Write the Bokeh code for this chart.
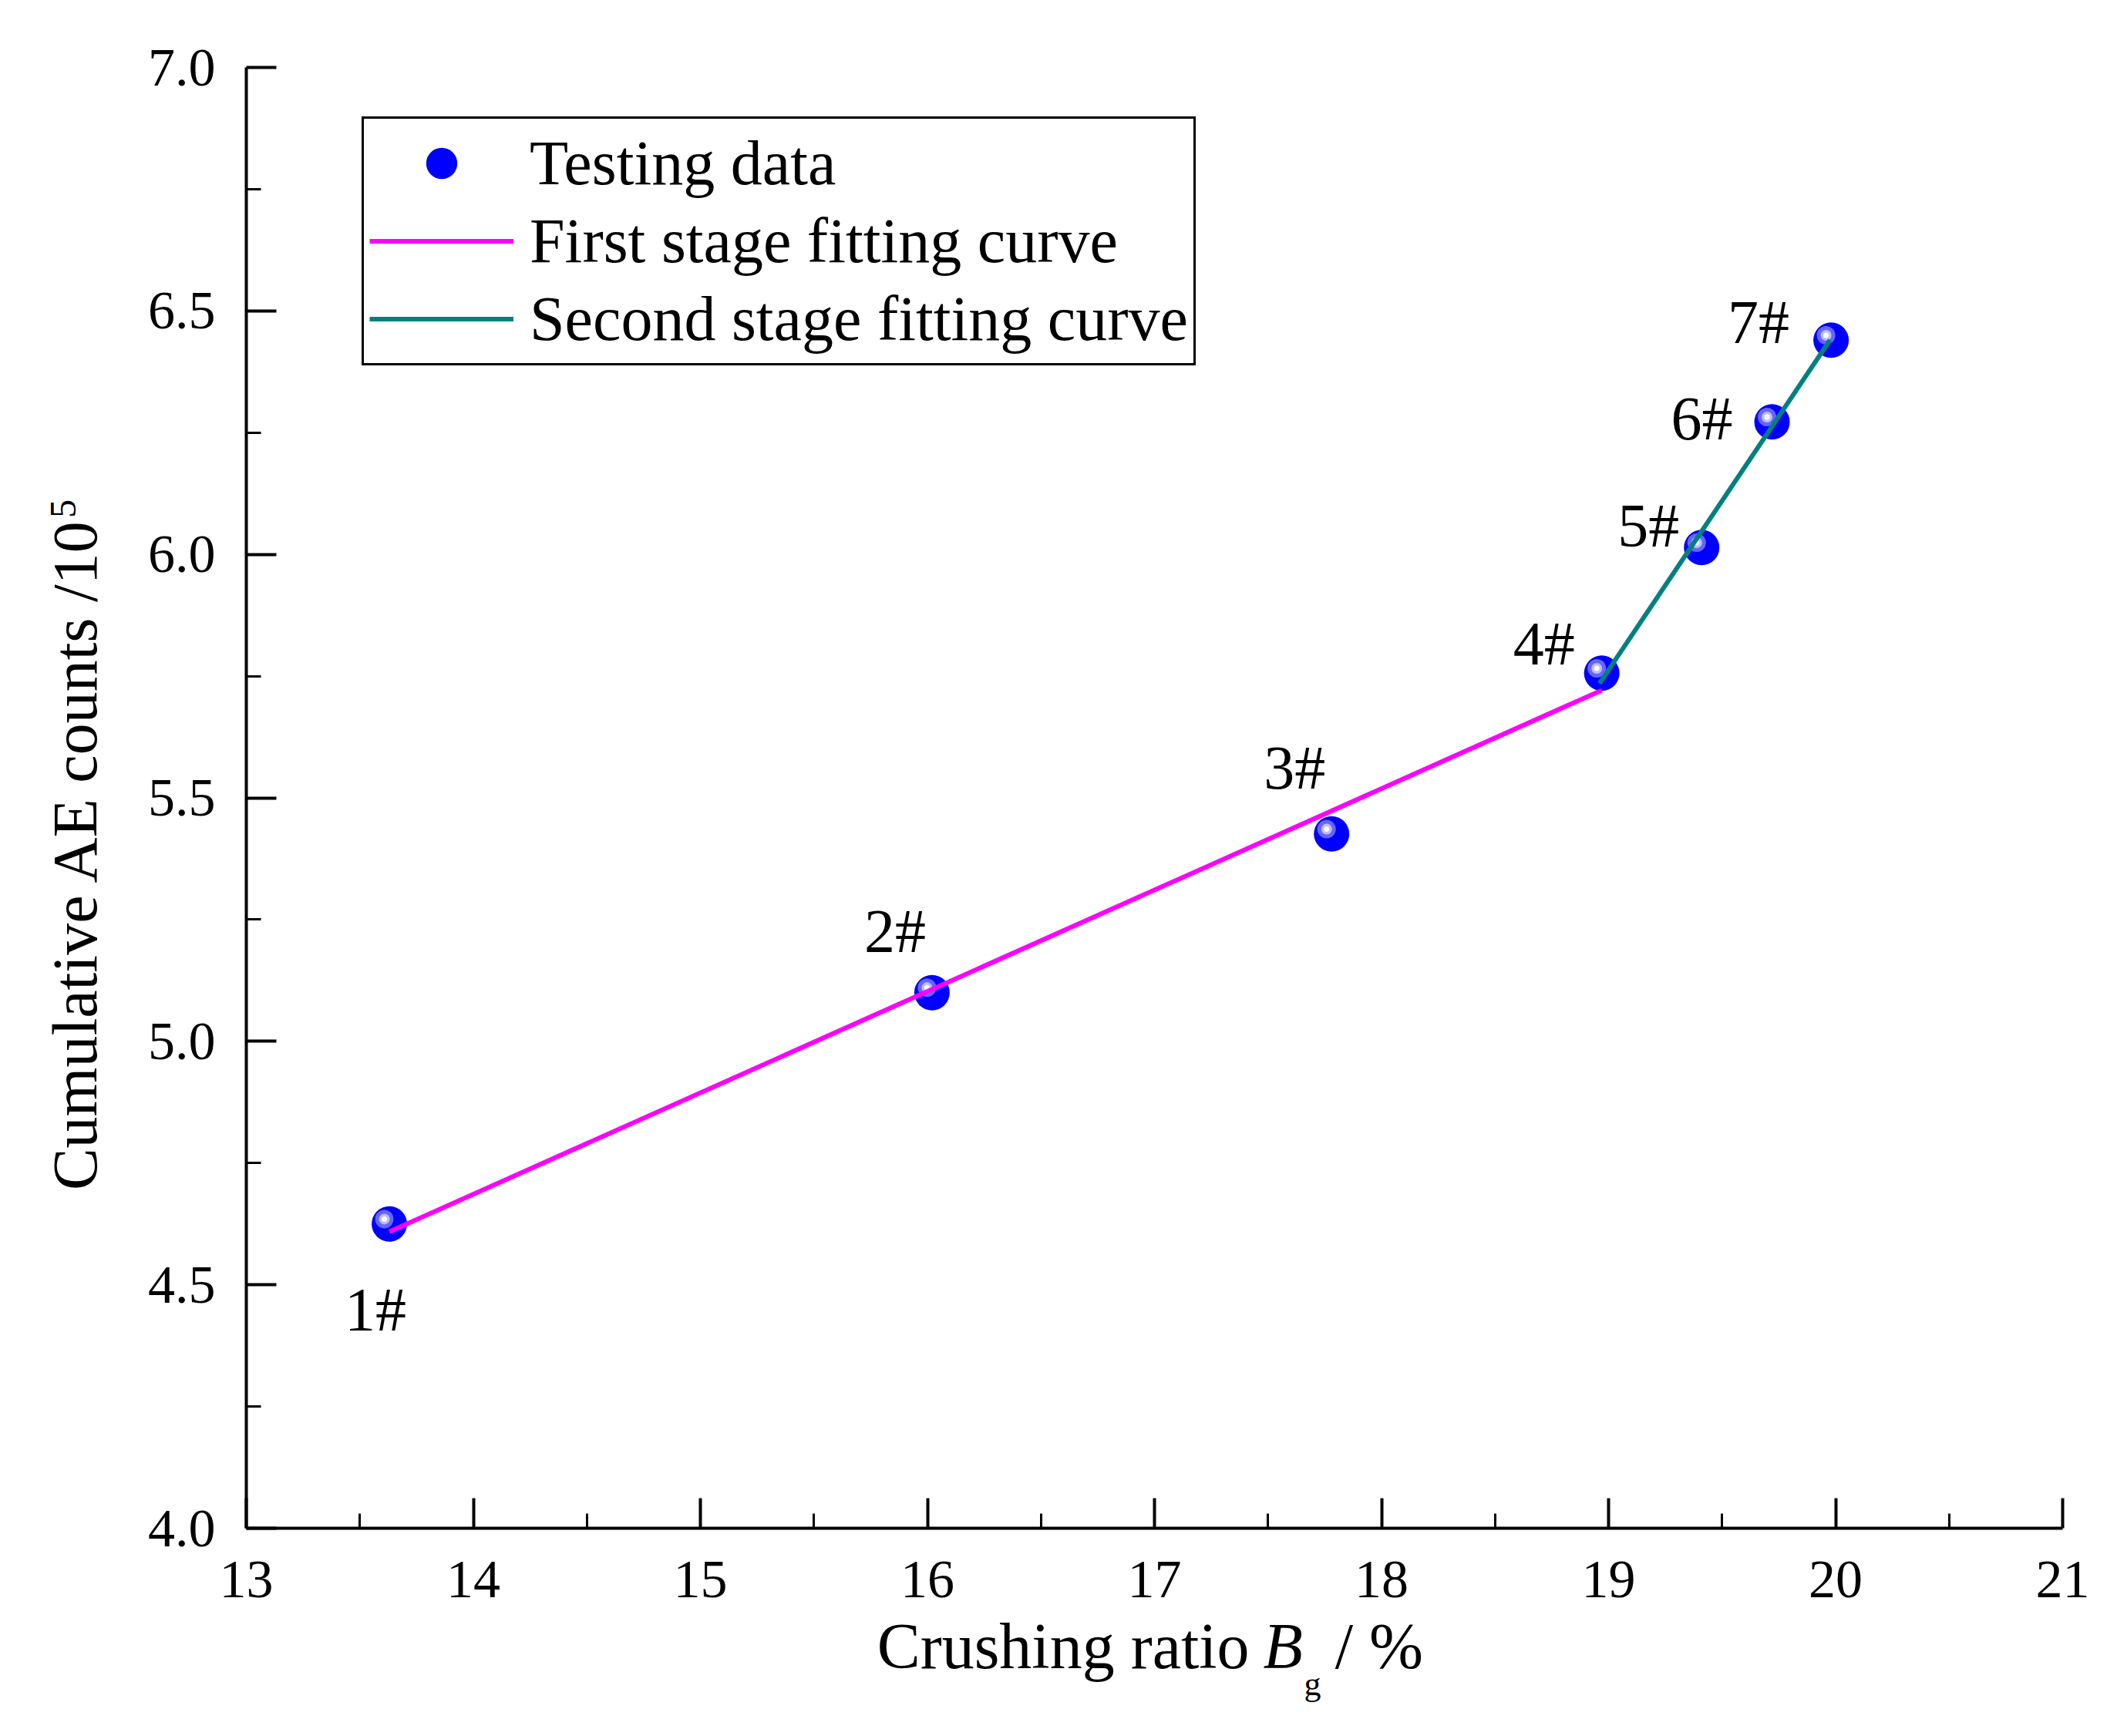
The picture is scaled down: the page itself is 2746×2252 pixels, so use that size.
from bokeh.plotting import figure
from bokeh.models import (ColumnDataSource, FixedTicker, Legend, LegendItem, Label,
                          Range1d, PrintfTickFormatter, LinearAxis)
from bokeh.transform import dodge
from bokeh.core.properties import value
from bokeh.embed import file_html
from bokeh.resources import INLINE

# ---------------- data ----------------
crushing_ratio = [13.63, 16.02, 17.78, 18.97, 19.41, 19.72, 19.98]
ae_counts = [4.625, 5.100, 5.426, 5.756, 6.014, 6.272, 6.440]
sample_labels = ["1#", "2#", "3#", "4#", "5#", "6#", "7#"]

fit1_x = [13.63, 18.97]
fit1_y = [4.609, 5.721]
fit2_x = [18.96, 19.975]
fit2_y = [5.735, 6.440]

x_ticks = [13, 14, 15, 16, 17, 18, 19, 20, 21]
x_minor = [13.5, 14.5, 15.5, 16.5, 17.5, 18.5, 19.5, 20.5]
y_ticks = [4.0, 4.5, 5.0, 5.5, 6.0, 6.5, 7.0]
y_minor = [4.25, 4.75, 5.25, 5.75, 6.25, 6.75]

x_title = "Crushing ratio"
y_title = "Cumulative AE counts /10"

# label offsets (screen px) for the sample tags
label_dx = [-18, -48, -48, -75, -69, -91, -94]
label_dy = [111, -80, -86, -38, -28, -4, -23]

FONT = "Liberation Serif"
W, H = 2730, 2236
# pixel placement of the axes box on the canvas
X0PX, X1PX, YTOPPX, YBOTPX = 319, 2675, 87, 1982
xs = (X1PX - X0PX) / (x_ticks[-1] - x_ticks[0])
ys = (YBOTPX - YTOPPX) / (y_ticks[-1] - y_ticks[0])
x_range = Range1d(x_ticks[0] - X0PX / xs, x_ticks[-1] + (W - X1PX) / xs)
y_range = Range1d(y_ticks[0] - (H - YBOTPX) / ys, y_ticks[-1] + YTOPPX / ys)

src = ColumnDataSource(dict(x=crushing_ratio, y=ae_counts, t=sample_labels,
                            dx=label_dx, dy=label_dy))

p = figure(width=W, height=H, x_range=x_range, y_range=y_range,
           x_axis_type=None, y_axis_type=None,
           output_backend="svg", toolbar_location=None,
           min_border=0)
p.outline_line_color = None
p.background_fill_color = "white"
p.border_fill_color = "white"
p.xgrid.visible = False
p.ygrid.visible = False

xaxis = LinearAxis(fixed_location=y_ticks[0], bounds=(x_ticks[0], x_ticks[-1]),
                   ticker=FixedTicker(ticks=x_ticks, minor_ticks=x_minor),
                   formatter=PrintfTickFormatter(format="%d"))
yaxis = LinearAxis(fixed_location=x_ticks[0], bounds=(y_ticks[0], y_ticks[-1]),
                   ticker=FixedTicker(ticks=y_ticks, minor_ticks=y_minor),
                   formatter=PrintfTickFormatter(format="%.1f"))
for ax in (xaxis, yaxis):
    ax.axis_line_width = 4
    ax.axis_line_color = "black"
    ax.major_tick_in = 39
    ax.major_tick_out = 0
    ax.minor_tick_in = 19
    ax.minor_tick_out = 0
    ax.major_tick_line_width = 4
    ax.minor_tick_line_width = 3
    ax.major_label_text_font = FONT
    ax.major_label_text_font_size = "70px"
    ax.major_label_text_color = "black"
xaxis.major_label_standoff = 43
yaxis.major_label_standoff = 40
p.add_layout(xaxis, "below")
p.add_layout(yaxis, "left")

# points (sphere look)
r_base = p.scatter("x", "y", source=src, size=46, fill_color="#0000FF", line_color=None)
p.scatter(dodge("x", -0.022), dodge("y", 0.010), source=src, size=24,
          fill_color="#7F7FFF", fill_alpha=0.8, line_color=None)
p.scatter(dodge("x", -0.022), dodge("y", 0.010), source=src, size=14,
          fill_color="#C8C8FF", fill_alpha=0.9, line_color=None)
p.scatter(dodge("x", -0.022), dodge("y", 0.010), source=src, size=7,
          fill_color="white", line_color=None)

# fitting lines on top
r_fit1 = p.line(fit1_x, fit1_y, line_color="#FF00FF", line_width=6)
r_fit2 = p.line(fit2_x, fit2_y, line_color="#008080", line_width=6)

# sample tags
p.text("x", "y", text="t", source=src, x_offset="dx", y_offset="dy",
       text_font=value(FONT), text_font_size="80px", text_align="center",
       text_baseline="middle", text_color="black")

legend = Legend(items=[
    LegendItem(label="Testing data", renderers=[r_base]),
    LegendItem(label="First stage fitting curve", renderers=[r_fit1]),
    LegendItem(label="Second stage fitting curve", renderers=[r_fit2]),
], location=(469, H - 474))
legend.label_text_font = FONT
legend.label_text_font_size = "82px"
legend.label_text_color = "black"
legend.glyph_width = 187
legend.glyph_height = 101
legend.label_height = 101
legend.label_standoff = 21
legend.padding = 7
legend.spacing = 0
legend.margin = 0
legend.border_line_color = "black"
legend.border_line_alpha = 1.0
legend.border_line_width = 3
legend.background_fill_color = "white"
legend.background_fill_alpha = 1.0
p.add_layout(legend)

# x-axis title: Crushing ratio B_g / %
p.add_layout(Label(x=17.418, y=3.758, text=x_title, text_align="right",
                   text_baseline="alphabetic", text_font=FONT, text_font_size="84px",
                   text_color="black"))
p.add_layout(Label(x=17.479, y=3.758, text="B", text_align="left", text_font_style="italic",
                   text_baseline="alphabetic", text_font=FONT, text_font_size="84px",
                   text_color="black"))
p.add_layout(Label(x=17.659, y=3.680, text="g", text_align="left",
                   text_baseline="alphabetic", text_font=FONT, text_font_size="44px",
                   text_color="black"))
p.add_layout(Label(x=17.795, y=3.758, text="/ %", text_align="left",
                   text_baseline="alphabetic", text_font=FONT, text_font_size="84px",
                   text_color="black"))

# y-axis title: Cumulative AE counts /10^5
p.add_layout(Label(x=12.245, y=6.075, text=y_title, angle=1.5707963,
                   text_align="right", text_baseline="alphabetic",
                   text_font=FONT, text_font_size="82px", text_color="black"))
p.add_layout(Label(x=12.195, y=6.075, text="5", angle=1.5707963,
                   text_align="left", text_baseline="alphabetic",
                   text_font=FONT, text_font_size="48px", text_color="black"))

open("out.html", "w").write(file_html(p, INLINE))
